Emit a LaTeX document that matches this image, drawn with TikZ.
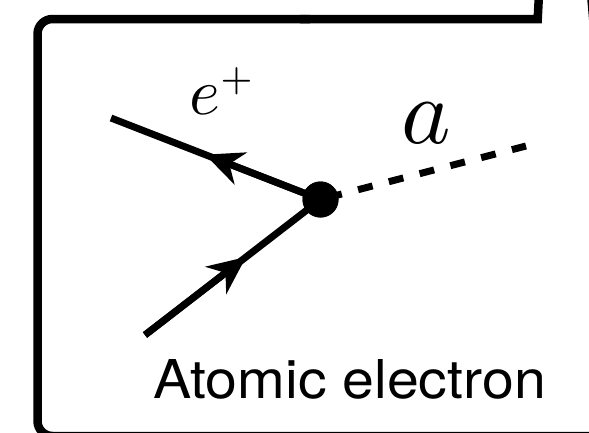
\documentclass[tikz,border=0pt]{standalone}
\usepackage{graphicx}
\usepackage{fontspec}
\newfontfamily\helv{TeX Gyre Heros}
\usetikzlibrary{arrows.meta,calc}
\tikzset{
  boxline/.style={line width=8.5pt, line join=miter},
  fermion/.style={line width=7pt},
  scalar/.style={line width=7pt, dash pattern=on 15pt off 16.8pt, dash phase=24.8pt},
  tipped/.style={-{Stealth[length=38pt,width=34pt,inset=12pt]}},
  vertexdot/.style={circle, fill=black, inner sep=0pt, minimum size=36pt},
  lbl/.style={inner sep=0pt}
}
\begin{document}
\begin{tikzpicture}[x=1pt,y=-1pt]
\useasboundingbox (0,0) rectangle (589,432);
\clip (0,0) rectangle (589,432);
% frame
\draw[boxline] (539.2,-10) -- (537.7,19) -- (300,19);
\draw[boxline, rounded corners=15pt] (310,19) -- (37.5,19) -- (37.5,436) -- (620,436);
\draw[boxline] (590.7,-10) -- (595,40);
% vertex and legs
\node[vertexdot] (v) at (320.5,199.5) {};
\coordinate (p) at (111,118);
\coordinate (e) at (145,335);
\coordinate (s) at (526,146);
\draw[fermion] (p) -- (v.center);
\draw[fermion] (e) -- (v.center);
\draw[scalar] (v.center) -- (s);
\coordinate (pt) at ($(v.center)!0.551!(p)$);
\coordinate (et) at ($(e)!0.576!(v.center)$);
\draw[fermion, tipped] (v.center) -- (pt);
\draw[fermion, tipped] (e) -- (et);
\node[vertexdot] at (v) {};
% labels
\node[lbl, anchor=base west] (lp) at (189.5,114.5) {\scalebox{6.6}{$e^{\scalebox{0.8}{$\scriptstyle +$}}$}};
\node[lbl, anchor=base west] (la) at (401.5,143) {\scalebox{9.4}{$a$}};
\node[lbl, anchor=base west, font=\helv\fontsize{53.5}{60}\selectfont] (lt) at (153,398) {\scalebox{1.07}[1]{Atomic electron}};
\end{tikzpicture}
\end{document}
